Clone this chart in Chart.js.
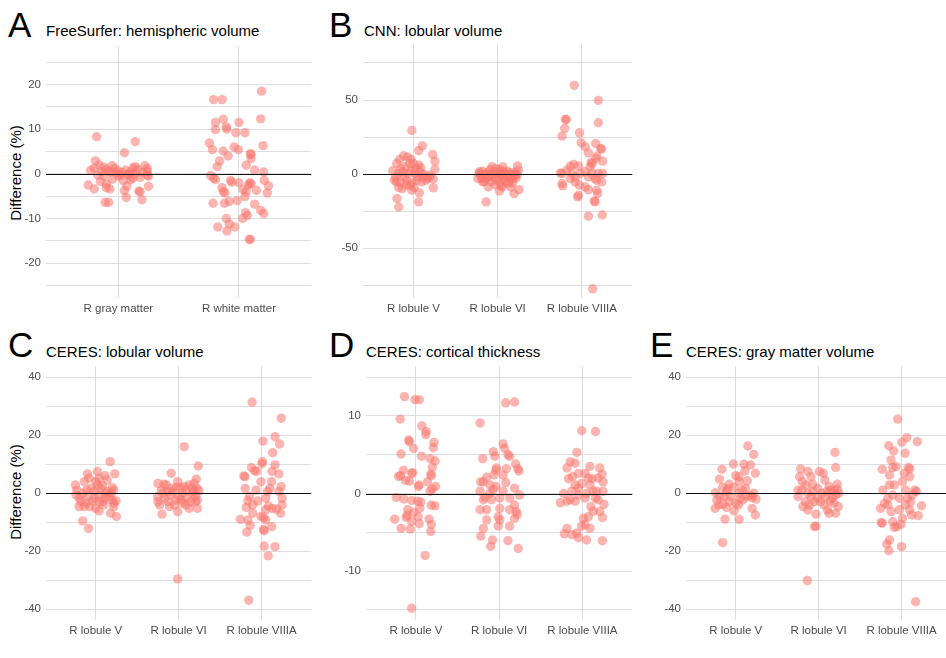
<!DOCTYPE html>
<html>
<head>
<meta charset="utf-8">
<script src="https://cdn.jsdelivr.net/npm/chart.js@4.4.1/dist/chart.umd.min.js"></script>
<style>
  html, body { margin: 0; padding: 0; width: 946px; height: 658px; overflow: hidden; background: #fff;
    font-family: "Liberation Sans", Arial, sans-serif; }
  canvas { position: absolute; }
  .letter { position: absolute; font-size: 35px; line-height: 35px; color: #000; }
  .title { position: absolute; font-size: 15px; line-height: 15px; color: #000; white-space: nowrap; }
  .ylab { position: absolute; font-size: 15px; line-height: 15px; color: #000; white-space: nowrap;
    transform: translate(-50%, -50%) rotate(-90deg); }
</style>
</head>
<body>
<div class="letter" style="left:8px;top:7px">A</div>
<div class="title" style="left:46px;top:23px">FreeSurfer: hemispheric volume</div>
<div class="letter" style="left:329px;top:7px">B</div>
<div class="title" style="left:364px;top:23px">CNN: lobular volume</div>
<div class="letter" style="left:8px;top:327px">C</div>
<div class="title" style="left:46px;top:344px">CERES: lobular volume</div>
<div class="letter" style="left:329px;top:327px">D</div>
<div class="title" style="left:366px;top:344px">CERES: cortical thickness</div>
<div class="letter" style="left:650px;top:327px">E</div>
<div class="title" style="left:686px;top:344px">CERES: gray matter volume</div>
<div class="ylab" style="left:15px;top:173px">Difference (%)</div>
<div class="ylab" style="left:15px;top:492px">Difference (%)</div>

<script>
// categories
const fsCategories = ["R gray matter", "R white matter"];
const lobuleCategories = ["R lobule V", "R lobule VI", "R lobule VIIIA"];

// y tick labels
const fsYLabels = [-20, -10, 0, 10, 20];
const cnnYLabels = [-50, 0, 50];
const volYLabels = [-40, -20, 0, 20, 40];
const thickYLabels = [-10, 0, 10];

// each point: [jitter offset from category, difference %]
// A: FreeSurfer hemispheric volume
const fsGray = [[-0.18,8.3],[0.14,7.2],[0.05,4.7],[-0.19,2.9],[-0.16,2.0],[-0.12,1.5],[-0.23,0.8],[-0.2,1.2],[-0.14,0.5],[-0.1,1.0],[-0.05,1.8],[-0.03,1.2],[0.0,0.6],[0.03,0.3],[0.06,0.8],[0.08,-0.2],[0.1,0.4],[0.12,1.3],[0.14,1.6],[0.16,1.0],[0.18,-0.8],[0.2,0.3],[0.22,1.8],[0.24,0.5],[0.24,1.2],[0.25,-0.5],[-0.25,-2.5],[-0.2,-3.4],[-0.15,-1.7],[-0.12,-0.5],[-0.1,-2.3],[-0.1,-3.1],[-0.07,-3.4],[-0.08,-6.4],[-0.11,-6.4],[-0.05,-1.2],[0.0,-0.5],[0.04,-1.5],[0.05,-3.8],[0.07,-2.8],[0.065,-5.3],[0.1,-1.3],[0.12,-1.0],[0.17,-3.9],[0.18,-4.0],[0.195,-5.8],[0.25,-2.8],[0.24,-0.3],[-0.02,0.2],[0.02,-0.3],[-0.06,0.4],[0.14,0.0],[-0.17,-0.3],[-0.08,0.6],[0.09,-0.1]];
const fsWhite = [[0.187,18.5],[-0.21,16.6],[-0.14,16.6],[0.18,12.3],[-0.13,12.2],[-0.195,11.5],[0.0,11.5],[-0.105,10.5],[-0.1,10.0],[-0.195,9.9],[-0.025,9.2],[0.05,9.2],[-0.245,6.9],[0.2,6.3],[-0.04,6.0],[-0.22,5.4],[-0.005,5.4],[-0.13,5.1],[0.095,4.5],[0.1,4.3],[-0.09,4.0],[-0.16,2.9],[0.1,3.4],[0.06,1.9],[-0.18,1.6],[0.13,0.8],[0.205,0.4],[-0.235,-0.4],[-0.195,-1.3],[0.21,-1.5],[-0.21,-1.0],[-0.07,-1.5],[-0.06,-1.9],[0.0,-2.0],[0.09,-2.0],[0.08,-2.5],[0.1,-2.2],[-0.14,-3.1],[-0.13,-4.0],[-0.115,-4.3],[0.035,-3.5],[0.06,-4.0],[0.145,-3.7],[0.235,-4.3],[0.245,-2.7],[0.05,-5.1],[-0.215,-6.6],[-0.08,-6.2],[-0.12,-6.6],[-0.015,-6.0],[0.13,-6.8],[0.18,-8.2],[0.205,-8.9],[0.055,-8.7],[0.07,-9.3],[0.03,-10.0],[-0.105,-10.0],[-0.08,-11.2],[-0.175,-11.9],[-0.035,-11.9],[-0.1,-12.8],[0.085,-14.7],[0.095,-14.7]];

// B: CNN lobular volume
const cnnV = [[-0.02,29.5],[0.106,19.1],[0.06,15.8],[0.227,13.3],[0.255,8.8],[0.255,3.2],[-0.118,12.4],[-0.07,11.7],[-0.165,9.9],[-0.03,9.9],[0.0,7.2],[0.06,6.1],[-0.2,7.2],[-0.247,2.3],[-0.13,1.6],[-0.03,2.3],[0.086,4.3],[0.02,0.5],[0.118,0.0],[0.196,-0.7],[0.165,-2.9],[0.235,-3.4],[-0.215,-1.8],[-0.157,-5.2],[-0.2,-5.2],[-0.08,-4.1],[-0.02,-5.9],[0.04,-4.1],[-0.133,-9.7],[-0.176,-9.0],[-0.02,-10.8],[0.008,-9.0],[0.07,-12.6],[0.235,-9.2],[-0.196,-16.4],[-0.176,-22.1],[0.06,-18.7],[-0.106,-1.8],[-0.06,0.5],[0.078,1.6],[0.118,-1.8],[0.15,-4.1],[0.19,-1.8],[-0.1,5.0],[-0.04,-7.4],[-0.086,-7.4],[-0.176,0.5],[-0.227,-4.1],[0.047,-1.8],[-0.15,3.8],[0.02,3.8],[0.098,-5.2],[-0.047,7.2]];
const cnnVI = [[-0.137,-18.7],[0.196,-13.1],[0.255,-10.4],[0.235,5.6],[0.247,2.7],[-0.216,1.6],[-0.235,-2.9],[-0.176,-5.2],[-0.11,-8.6],[0.02,-11.3],[0.06,-8.6],[0.157,-8.6],[-0.067,5.0],[-0.02,3.8],[0.06,5.0],[-0.2,-1],[-0.18,2],[-0.15,0],[-0.14,-3],[-0.12,1],[-0.1,-2],[-0.09,3],[-0.08,-5],[-0.06,0],[-0.05,-1.5],[-0.04,2],[-0.02,-4],[0,1],[0.01,-2],[0.02,3],[0.03,-6],[0.04,0],[0.05,-1],[0.06,2],[0.07,-3],[0.08,1],[0.09,-5],[0.1,0],[0.11,-2],[0.12,2],[0.13,-1],[0.14,-4],[0.15,1],[0.16,-2],[0.17,0],[0.18,-3],[0.19,-1],[0.2,1],[0.21,-1],[0.22,-2.5],[0.23,0],[-0.22,0.5],[-0.19,-3],[-0.16,-5],[-0.11,-1],[-0.03,-7],[0.04,-8],[0.12,-6],[0.18,-6]];
const cnnVIIIA = [[-0.09,59.9],[0.196,49.8],[0.196,34.7],[-0.196,36.9],[-0.184,36.9],[-0.204,30.9],[-0.235,25.7],[-0.027,27.9],[0.165,20.7],[-0.008,21.2],[0.04,18.5],[0.224,17.3],[0.235,16.9],[0.078,14.4],[0.18,12.2],[0.247,8.8],[0.11,7.9],[0.125,7.2],[0.165,10.6],[-0.098,6.5],[-0.137,5.4],[-0.04,5.6],[-0.176,2.7],[0.04,1.6],[-0.235,0.5],[-0.255,0.9],[0.247,0.5],[0.118,0.9],[-0.078,-1.8],[-0.137,-2.9],[0.157,-2.9],[0.176,-4.1],[0.078,-1.8],[0.235,-5.2],[-0.235,-6.3],[-0.227,-7.9],[-0.03,-7.4],[0.04,-8.6],[0.078,-10.4],[0.176,-10.8],[0.188,-13.1],[-0.04,-14.2],[-0.05,-15.3],[0.157,-18.7],[0.149,-18.0],[0.078,-28.4],[0.243,-27.5],[0.13,-77.3],[-0.118,0.5],[-0.02,0.5],[0.098,5.0],[0.196,0.5],[-0.078,-5.2]];

// C: CERES lobular volume
const ceresVolV = [[0.174,10.9],[0.23,6.7],[-0.1,6.7],[0.02,7.5],[0.11,6.1],[-0.245,2.9],[-0.23,1.1],[-0.138,4.0],[0.04,5.2],[0.138,4.6],[-0.06,1.7],[0.08,2.6],[0.2,2.0],[0.217,1.1],[-0.02,0.6],[-0.158,0.0],[-0.2,-1.7],[-0.1,-1.1],[0.04,-0.6],[0.118,0.0],[0.158,-1.1],[0.245,-2.6],[-0.178,-2.9],[-0.118,-3.4],[-0.04,-2.6],[0.08,-2.9],[0.197,-2.3],[-0.07,-4.6],[0.0,-5.2],[0.04,-6.1],[0.217,-4.6],[0.178,-6.9],[0.249,-8.0],[-0.158,-9.5],[-0.087,-12.1],[-0.138,-4.6],[0.1,-4.0],[-0.237,-0.6],[0.02,2.9],[-0.11,1.1],[0.138,0.6],[-0.02,-1.7],[0.11,-1.7],[-0.2,-4.6],[0.06,1.7],[0.19,0.0],[0.04,-2.9],[0.217,-3.4],[-0.08,5.2],[0.0,4.0]];
const ceresVolVI = [[0.067,16.1],[0.237,9.4],[-0.09,6.9],[0.213,4.9],[-0.012,4.0],[-0.25,3.4],[-0.178,3.1],[0.126,2.9],[0.225,1.7],[-0.03,2.1],[-0.21,1.1],[-0.13,0.6],[0.087,1.1],[0.185,0.6],[0.245,0.8],[-0.256,-1.1],[-0.17,-1.7],[-0.09,-0.6],[0.008,-1.1],[0.106,-1.7],[0.205,-1.1],[-0.23,-4.0],[-0.13,-2.9],[-0.05,-4.0],[0.047,-3.4],[0.146,-2.9],[0.225,-5.2],[0.126,-5.2],[-0.012,-6.3],[-0.2,-7.2],[-0.012,-29.5],[-0.07,0.6],[0.047,0.0],[0.166,0.0],[-0.15,2.9],[0.067,2.3],[0.185,3.4],[-0.11,-4.6],[0.087,-4.0],[0.205,-2.9],[-0.19,0.0],[-0.03,-2.3],[0.028,-2.3],[0.225,-2.3],[-0.25,-2.9],[-0.09,1.7],[0.02,2.0],[0.166,1.7]];
const ceresVolVIIIA = [[-0.114,31.4],[0.237,25.9],[0.162,19.5],[0.217,17.0],[0.016,18.0],[0.134,14.0],[0.162,9.8],[0.012,10.9],[0.004,10.2],[-0.122,8.9],[-0.083,7.8],[-0.2,5.7],[-0.213,6.0],[0.126,7.5],[0.209,6.7],[-0.06,7.5],[0.122,4.0],[-0.008,4.0],[-0.197,1.7],[0.237,2.3],[0.209,0.6],[0.1,1.7],[0.071,0.6],[-0.146,-1.1],[0.248,-1.7],[-0.166,-2.6],[-0.047,-2.6],[0.248,-4.0],[-0.106,-4.0],[0.083,-4.4],[-0.185,-4.9],[0.13,-5.2],[0.051,-5.7],[0.18,-5.4],[0.229,-6.9],[-0.106,-6.9],[-0.008,-8.0],[0.024,-8.4],[-0.256,-9.0],[0.051,-9.2],[-0.166,-9.2],[-0.138,-11.1],[0.122,-11.5],[-0.178,-13.4],[0.032,-12.9],[0.024,-12.5],[0.032,-18.2],[0.162,-18.4],[0.079,-21.6],[-0.154,-36.9],[-0.067,1.1],[0.051,-1.7]];

// D: CERES cortical thickness
const ceresThickV = [[-0.138,12.5],[-0.012,12.1],[0.04,12.1],[-0.19,9.6],[0.071,8.7],[0.122,8.0],[0.118,7.6],[-0.087,6.9],[-0.079,6.7],[0.217,6.6],[0.209,5.9],[-0.028,5.8],[-0.178,5.1],[0.067,4.8],[0.17,4.5],[0.229,4.2],[0.197,3.4],[-0.15,3.0],[-0.04,2.7],[-0.051,2.6],[-0.209,2.2],[-0.185,2.3],[0.178,2.5],[0.185,2.3],[-0.126,1.7],[-0.079,1.6],[0.04,1.1],[0.028,0.9],[0.138,1.5],[0.237,0.9],[0.197,0.6],[0.17,0.3],[-0.237,-0.5],[-0.146,-0.7],[-0.051,-0.9],[0.02,-1.0],[0.059,-1.1],[0.185,-1.5],[0.229,-1.6],[0.047,-1.9],[-0.098,-2.1],[-0.106,-2.8],[-0.028,-2.4],[0.028,-3.0],[-0.256,-3.3],[0.158,-3.3],[-0.051,-3.6],[0.04,-3.9],[0.185,-4.0],[-0.178,-4.5],[-0.067,-4.6],[0.178,-4.9],[0.11,-8.0],[-0.051,-14.8],[-0.118,-3.1]];
const ceresThickVI = [[0.079,11.7],[0.185,11.8],[-0.229,9.1],[-0.197,4.5],[0.047,6.4],[0.067,5.8],[-0.071,5.4],[-0.051,4.8],[0.106,5.0],[0.126,4.8],[0.197,3.8],[-0.032,3.3],[-0.04,3.0],[0.087,3.2],[0.225,3.2],[0.237,2.9],[-0.063,2.4],[-0.221,1.5],[-0.15,2.1],[-0.19,1.5],[0.079,1.4],[-0.11,1.1],[-0.04,0.9],[0.185,0.7],[-0.229,0.3],[-0.071,0.5],[0.245,-0.2],[-0.17,-0.5],[-0.091,-0.8],[0.008,-0.6],[0.126,-0.6],[-0.19,-0.8],[0.185,-1.5],[0.008,-1.9],[-0.229,-2.1],[-0.15,-2.1],[0.126,-2.1],[0.205,-2.3],[0.217,-2.7],[-0.012,-3.0],[0.008,-3.4],[0.185,-3.2],[-0.15,-3.4],[-0.012,-4.2],[0.126,-4.2],[-0.19,-4.5],[-0.221,-5.5],[-0.079,-6.0],[0.106,-6.1],[-0.102,-6.8],[0.229,-7.1],[0.047,2.4],[-0.11,0.0],[0.047,0.3]];
const ceresThickVIIIA = [[-0.008,8.1],[0.158,8.0],[-0.067,5.3],[-0.146,4.1],[-0.185,3.3],[-0.087,3.9],[0.091,3.5],[0.209,3.3],[0.237,2.5],[0.189,2.0],[-0.047,2.6],[0.032,2.6],[0.071,2.0],[0.118,1.9],[-0.118,2.2],[-0.166,1.9],[0.248,1.5],[-0.008,1.3],[-0.087,1.1],[0.091,1.1],[-0.225,0.0],[-0.126,0.3],[-0.047,-0.2],[0.051,0.0],[0.17,0.3],[0.248,0.3],[-0.264,-1.2],[-0.185,-1.0],[-0.146,-0.8],[-0.087,-1.0],[0.158,-0.6],[0.189,-0.8],[0.26,-1.4],[0.103,-1.7],[0.13,-2.3],[0.209,-2.3],[0.241,-3.1],[0.012,-3.2],[0.071,-3.0],[0.032,-4.0],[-0.008,-4.2],[0.091,-4.5],[-0.185,-4.5],[-0.217,-5.2],[-0.126,-5.3],[-0.067,-5.1],[-0.047,-5.7],[0.051,-6.0],[0.241,-6.1],[-0.047,0.7],[0.032,-0.6],[0.13,0.3]];

// E: CERES gray matter volume
const ceresGmV = [[0.146,16.3],[0.217,13.4],[-0.028,10.1],[0.099,10.0],[0.178,9.8],[-0.166,8.3],[0.237,6.9],[0.11,7.7],[-0.197,4.9],[0.0,6.1],[0.04,5.7],[0.138,4.3],[-0.079,3.1],[0.04,4.0],[-0.158,2.1],[-0.099,1.5],[-0.02,2.0],[0.079,1.1],[-0.245,0.2],[-0.11,0.6],[0.04,0.0],[0.217,0.0],[0.178,-0.8],[0.197,-1.5],[0.245,-2.0],[-0.229,-2.3],[-0.158,-3.8],[-0.205,-4.0],[-0.079,-2.9],[0.0,-3.4],[0.087,-2.3],[0.138,-1.1],[-0.249,-5.2],[-0.11,-4.9],[-0.02,-6.1],[0.032,-4.0],[0.197,-5.2],[0.237,-7.5],[-0.13,-8.9],[0.04,-9.0],[-0.158,-17.0],[-0.059,-1.1],[0.118,1.7],[-0.197,-1.1],[0.059,-1.7],[-0.138,-1.1]];
const ceresGmVI = [[0.197,14.1],[0.205,8.9],[-0.217,8.4],[0.008,7.5],[0.055,6.9],[-0.13,7.5],[-0.229,5.7],[-0.091,5.7],[0.075,4.6],[0.225,3.1],[-0.197,4.0],[-0.071,3.1],[0.126,2.3],[-0.249,1.1],[-0.201,1.1],[-0.012,1.7],[0.146,1.1],[0.225,1.4],[-0.13,0.0],[0.039,0.0],[0.185,0.6],[0.245,0.0],[-0.091,-1.1],[0.087,-1.1],[0.205,-0.6],[-0.162,-2.9],[-0.051,-2.9],[0.138,-2.6],[-0.189,-4.6],[-0.11,-4.0],[0.067,-4.0],[0.237,-4.6],[0.107,-5.7],[-0.13,-5.7],[-0.032,-7.2],[0.126,-6.9],[0.205,-6.9],[-0.051,-11.5],[-0.032,-11.3],[-0.138,-30.1],[0.166,-1.7],[-0.012,-1.7],[-0.249,-1.1],[0.02,-2.9],[0.185,-3.4],[-0.071,0.6],[-0.15,2.9],[0.099,0.6]];
const ceresGmVIIIA = [[-0.047,25.6],[0.063,19.2],[0.189,17.8],[0.004,17.6],[-0.154,16.4],[-0.095,14.6],[0.043,13.8],[-0.126,11.5],[-0.107,8.9],[-0.233,8.3],[0.083,8.9],[0.099,8.4],[-0.067,9.2],[0.032,6.9],[0.099,5.7],[-0.146,6.3],[0.012,4.0],[-0.146,2.9],[-0.087,2.9],[-0.225,1.1],[0.051,1.1],[0.162,1.1],[0.177,0.6],[-0.107,-0.6],[-0.166,-1.7],[0.071,-1.7],[-0.205,-3.4],[0.11,-2.9],[0.241,-4.3],[-0.252,-5.2],[-0.028,-5.7],[0.099,-5.7],[-0.126,-6.3],[0.122,-7.5],[0.201,-7.7],[0.012,-8.6],[-0.245,-10.1],[-0.233,-10.3],[-0.107,-9.8],[-0.059,-11.5],[-0.008,-10.7],[-0.087,-11.8],[-0.146,-16.1],[-0.178,-17.5],[-0.154,-19.8],[0.0,-18.4],[0.17,-37.4],[-0.028,-1.7],[-0.166,-4.0],[0.043,-4.0],[0.13,-0.6]];

const POINT = "rgba(248, 118, 109, 0.55)";
const GRID = "#dedede";
const TICK_FONT = { family: "'Liberation Sans', Arial, sans-serif", size: 11.5 };

// zero reference line drawn above the points
const zeroLine = {
  id: "zeroLine",
  afterDatasetsDraw(chart) {
    const { ctx, chartArea } = chart;
    const y = Math.round(chart.scales.y.getPixelForValue(0)) + 0.5;
    ctx.save();
    ctx.strokeStyle = "#111";
    ctx.lineWidth = 1;
    ctx.beginPath();
    ctx.moveTo(chartArea.left, y);
    ctx.lineTo(chartArea.right, y);
    ctx.stroke();
    ctx.restore();
  },
};

function makePanel(p) {
  const padTop = 12, xh = 24;
  const w = p.yw + (p.right - p.left);
  const h = padTop + (p.bottom - p.top) + xh;
  const canvas = document.createElement("canvas");
  canvas.width = w;
  canvas.height = h;
  canvas.style.left = (p.left - p.yw) + "px";
  canvas.style.top = (p.top - padTop) + "px";
  canvas.style.width = w + "px";
  canvas.style.height = h + "px";
  document.body.appendChild(canvas);

  return new Chart(canvas.getContext("2d"), {
    type: "scatter",
    data: {
      datasets: p.groups.map((g, i) => ({
        data: g.map(([dx, y]) => ({ x: i + 1 + dx, y: y })),
        backgroundColor: POINT,
        borderWidth: 0,
        pointRadius: 4.7,
        pointHoverRadius: 4.7,
        clip: false,
      })),
    },
    options: {
      responsive: false,
      animation: false,
      events: [],
      layout: { padding: { top: padTop, left: 0, right: 0, bottom: 0 } },
      plugins: { legend: { display: false }, tooltip: { enabled: false } },
      scales: {
        x: {
          type: "linear",
          min: 0.4,
          max: p.groups.length + 0.6,
          ticks: {
            stepSize: 1,
            includeBounds: false,
            autoSkip: false,
            maxRotation: 0,
            padding: 4,
            color: "#4d4d4d",
            font: TICK_FONT,
            callback: (v) => p.categories[v - 1] ?? "",
          },
          grid: { color: GRID, lineWidth: 1, drawTicks: false },
          border: { display: false },
          afterFit(scale) { scale.height = xh; },
        },
        y: {
          min: p.yMin,
          max: p.yMax,
          ticks: {
            stepSize: p.step,
            includeBounds: false,
            autoSkip: false,
            padding: 5,
            color: "#4d4d4d",
            font: TICK_FONT,
            callback: (v) => (p.yLabels.includes(v) ? String(v) : ""),
          },
          grid: { color: GRID, lineWidth: 1, drawTicks: false },
          border: { display: false },
          afterFit(scale) { scale.width = p.yw; },
        },
      },
    },
    plugins: [zeroLine],
  });
}

makePanel({ left: 46, right: 316, top: 46, bottom: 298, yw: 46, yMin: -27.8, yMax: 28.6, step: 5,
  yLabels: fsYLabels, categories: fsCategories, groups: [fsGray, fsWhite] });
makePanel({ left: 363, right: 637, top: 44, bottom: 298, yw: 40, yMin: -83.5, yMax: 87.8, step: 25,
  yLabels: cnnYLabels, categories: lobuleCategories, groups: [cnnV, cnnVI, cnnVIIIA] });
makePanel({ left: 46, right: 316, top: 366, bottom: 620, yw: 46, yMin: -43.7, yMax: 43.9, step: 10,
  yLabels: volYLabels, categories: lobuleCategories, groups: [ceresVolV, ceresVolVI, ceresVolVIIIA] });
makePanel({ left: 366, right: 637, top: 366, bottom: 620, yw: 40, yMin: -16.32, yMax: 16.45, step: 5,
  yLabels: thickYLabels, categories: lobuleCategories, groups: [ceresThickV, ceresThickVI, ceresThickVIIIA] });
makePanel({ left: 686, right: 956, top: 366, bottom: 620, yw: 40, yMin: -43.7, yMax: 43.9, step: 10,
  yLabels: volYLabels, categories: lobuleCategories, groups: [ceresGmV, ceresGmVI, ceresGmVIIIA] });
</script>
</body>
</html>
